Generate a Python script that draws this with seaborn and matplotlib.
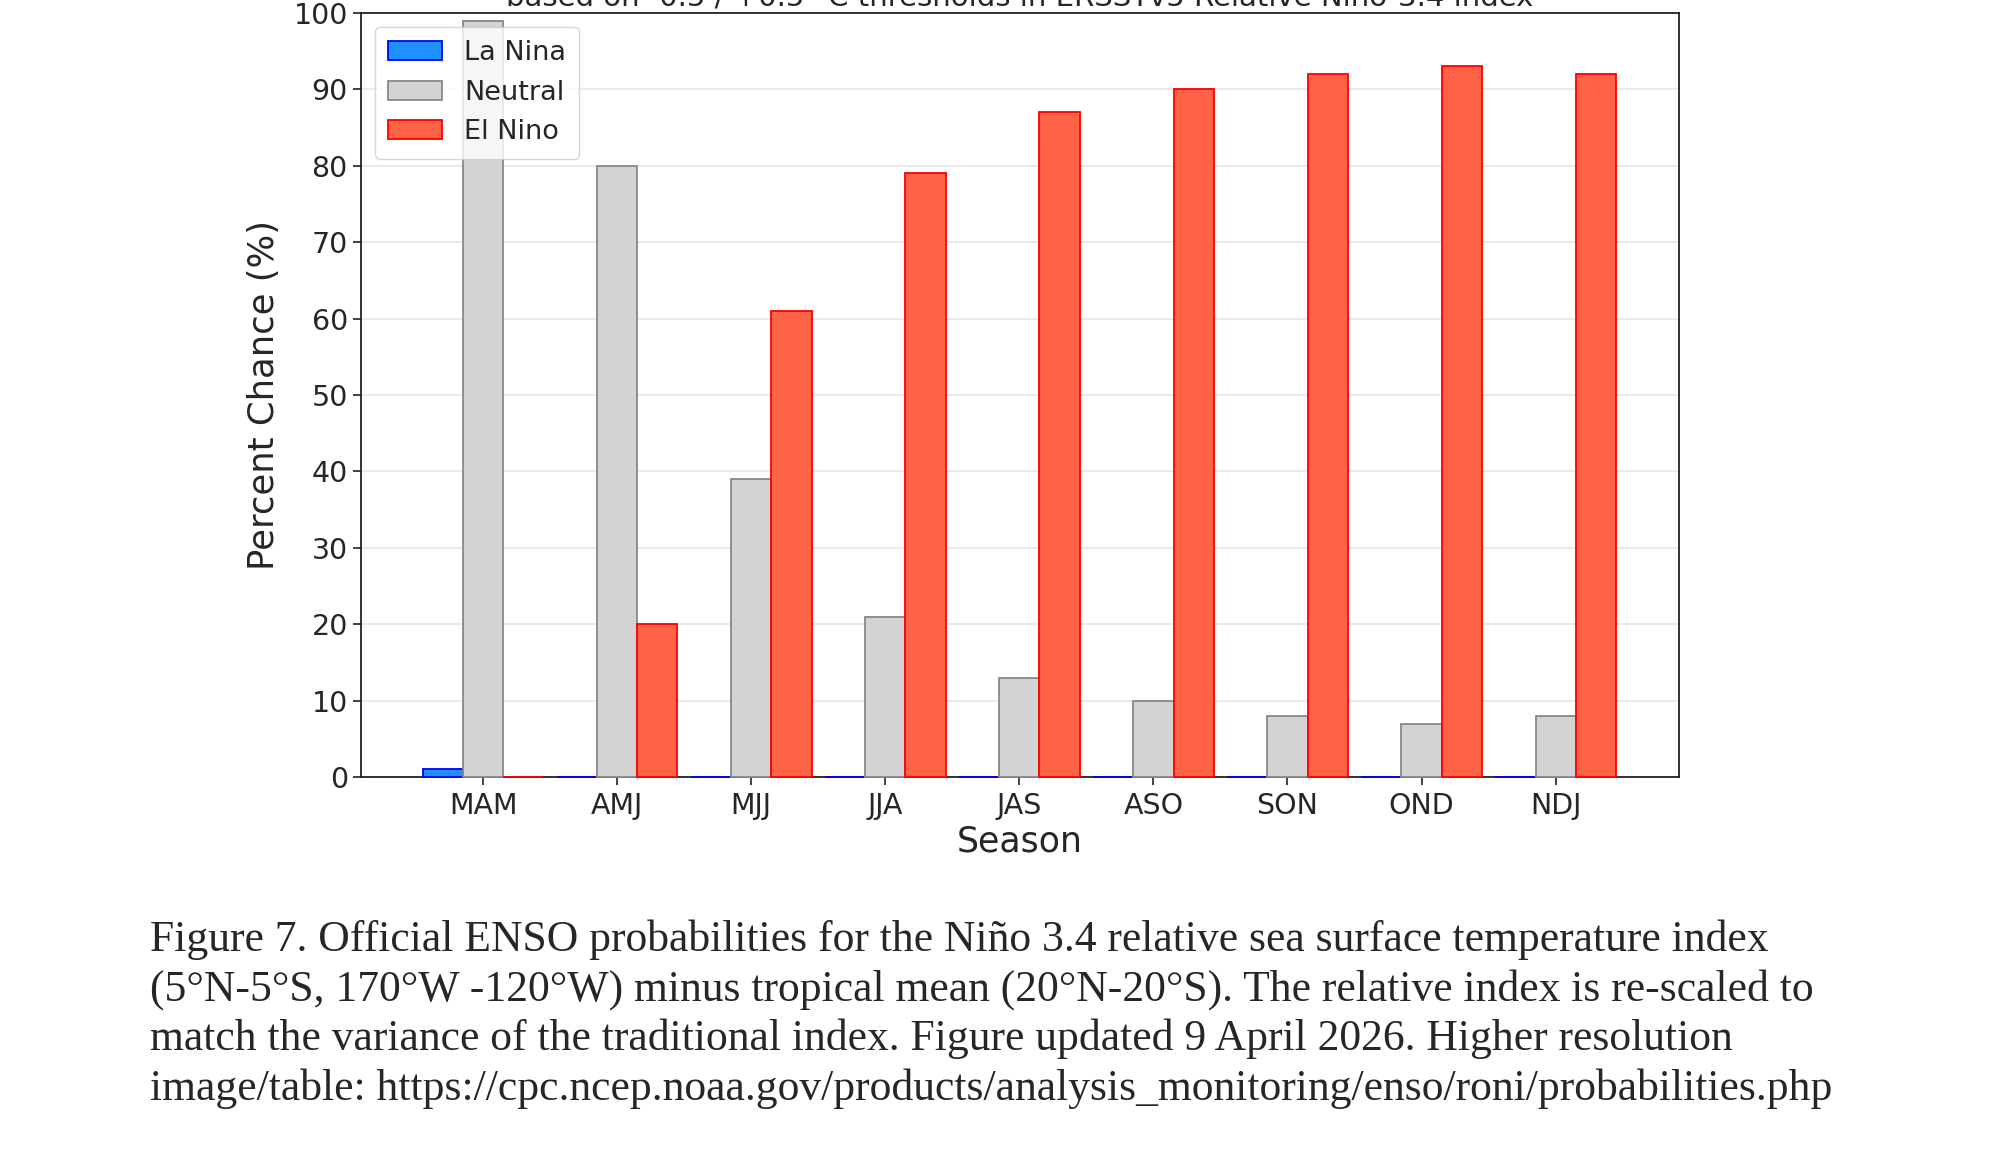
import matplotlib
matplotlib.use("Agg")
import matplotlib.pyplot as plt
import seaborn as sns
import pandas as pd

seasons = ["MAM", "AMJ", "MJJ", "JJA", "JAS", "ASO", "SON", "OND", "NDJ"]
categories = ["La Nina", "Neutral", "El Nino"]
la_nina = [1, 0, 0, 0, 0, 0, 0, 0, 0]
neutral = [99, 80, 39, 21, 13, 10, 8, 7, 8]
el_nino = [0, 20, 61, 79, 87, 90, 92, 93, 92]
yticks = list(range(0, 101, 10))

title = "based on -0.5 / +0.5 \u00b0C thresholds in ERSSTv5 Relative Ni\u00f1o-3.4 index"
caption = ("Figure 7. Official ENSO probabilities for the Ni\u00f1o 3.4 relative sea surface temperature index\n"
           "(5\u00b0N-5\u00b0S, 170\u00b0W -120\u00b0W) minus tropical mean (20\u00b0N-20\u00b0S). The relative index is re-scaled to\n"
           "match the variance of the traditional index. Figure updated 9 April 2026. Higher resolution\n"
           "image/table: https://cpc.ncep.noaa.gov/products/analysis_monitoring/enso/roni/probabilities.php")

df = pd.DataFrame({
    "Season": seasons * 3,
    "Category": [c for c in categories for _ in seasons],
    "Percent": la_nina + neutral + el_nino,
})

sns.set_style("ticks")
plt.rcParams["font.family"] = ["DejaVu Sans"]

fills = {"La Nina": "#1E90FF", "Neutral": "#D3D3D3", "El Nino": "#FF6347"}
edges = {"La Nina": "#0000FF", "Neutral": "#888888", "El Nino": "#FF0000"}

fig = plt.figure(figsize=(20, 11.5), dpi=100)
ax = fig.add_axes([361 / 2000, 1 - 777 / 1150, (1679 - 361) / 2000, (777 - 13) / 1150])

sns.barplot(data=df, x="Season", y="Percent", hue="Category", hue_order=categories,
            order=seasons, palette=fills, width=0.9, saturation=1, ax=ax,
            legend=False, errorbar=None)

for cont, cat in zip(ax.containers, categories):
    for p in cont:
        p.set_edgecolor(edges[cat])
        p.set_linewidth(1.3)
        p.set_zorder(3)
        p.set_clip_on(False)

leg = ax.legend(ax.containers, categories, loc="upper left", fontsize=19.5,
                frameon=True, framealpha=0.8, borderpad=0.5, handlelength=2.0)
leg.set_zorder(5)

ax.set_xlim(-0.91, 8.92)
ax.set_ylim(0, 100)
ax.set_yticks(yticks)
ax.set_axisbelow(True)
ax.yaxis.grid(True, color="#E6E6E6", linewidth=1.2)
ax.xaxis.grid(False)
for s in ax.spines.values():
    s.set_visible(True)
    s.set_color("#222222")
    s.set_linewidth(1.3)
    s.set_zorder(2.5)
ax.tick_params(axis="both", labelsize=20.5, length=6, width=1.2, color="#222222")
ax.tick_params(axis="x", pad=5)
ax.set_xlabel("Season", fontsize=25, labelpad=3)
ax.set_ylabel("Percent Chance (%)", fontsize=25.5, labelpad=9)

fig.text(0.51, 1 - 5 / 1150, title, ha="center", va="baseline", fontsize=21)

fig.text(150 / 2000, 1 - 919 / 1150, caption, ha="left", va="top",
         family=["Liberation Serif"], fontsize=31.4, linespacing=1.29)

fig.savefig("out.png", dpi=100)
